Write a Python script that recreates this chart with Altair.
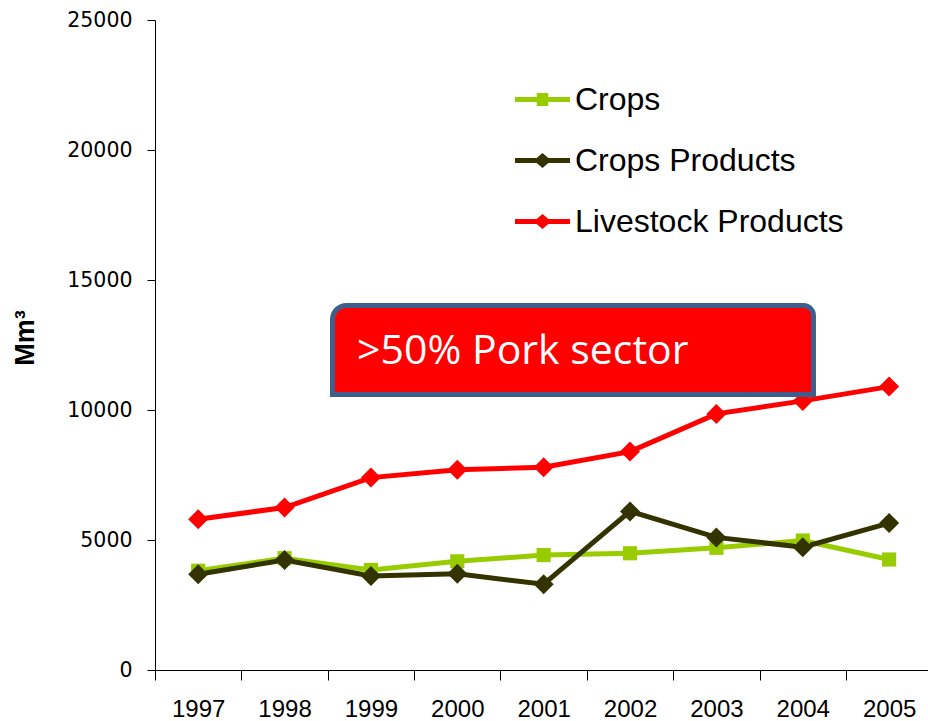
import altair as alt
import pandas as pd

# ---- data ----
years = [1997, 1998, 1999, 2000, 2001, 2002, 2003, 2004, 2005]
crops = [3820, 4300, 3850, 4180, 4420, 4490, 4700, 4980, 4250]
crops_products = [3680, 4230, 3620, 3700, 3300, 6100, 5100, 4720, 5650]
livestock = [5800, 6250, 7400, 7700, 7800, 8400, 9850, 10350, 10900]

series_names = ["Crops", "Crops Products", "Livestock Products"]
series_colors = ["#99CC00", "#333300", "#FF0000"]
series_markers = ["square", "diamond", "diamond"]
marker_sizes = [200, 400, 400]

y_ticks = [0, 5000, 10000, 15000, 20000, 25000]
y_title = "Mm³"

note_text = [">50% Pork sector"]
note_box_x = [1998.555, 2004.124]
note_box_y = [10596, 14019]
note_text_x = [1998.84]
note_text_y = [11769]

rows = []
for name, vals in zip(series_names, [crops, crops_products, livestock]):
    for yr, v in zip(years, vals):
        rows.append({"year": yr, "value": v, "series": name})
df = pd.DataFrame(rows)

# legend-only rows: no positions, so nothing is drawn; entries come from the scale domain
legend_df = pd.DataFrame({"series": series_names, "year": [None] * 3, "value": [None] * 3})

box_df = pd.DataFrame({"year": [note_box_x[0]], "year_end": [note_box_x[1]],
                       "value": [note_box_y[0]], "value_end": [note_box_y[1]]})
txt_df = pd.DataFrame({"year": note_text_x, "value": note_text_y, "label": note_text})

half_step = 773 / (2005.45 - 1996.5) / 2

x_enc = alt.X(
    "year:Q",
    scale=alt.Scale(domain=[1996.5, 2005.45], nice=False, zero=False),
    axis=alt.Axis(values=years, format="d", title=None, grid=False,
                  tickOffset=-half_step, labelOffset=half_step,
                  tickSize=10, labelPadding=17, labelFlush=False, labelOverlap=False,
                  labelFont="Liberation Sans", labelFontSize=24, labelColor="black",
                  domainColor="black", tickColor="black", domainWidth=1, tickWidth=1),
)
y_enc = alt.Y(
    "value:Q",
    scale=alt.Scale(domain=[0, 25000], nice=False),
    axis=alt.Axis(values=y_ticks, format="d", grid=False, tickSize=8, labelPadding=15,
                  labelFont="DejaVu Sans", labelFontSize=20.5, labelColor="black",
                  domainColor="black", tickColor="black",
                  title=y_title, titleFont="Liberation Sans", titleFontSize=27,
                  titleFontWeight="bold", titleColor="black", titleAngle=270,
                  titleX=-122, titleY=317.5, titleAlign="center",
                  titleBaseline="alphabetic"),
)

square_path = "M-1 -0.09H1V0.09H-1Z M-0.21 -0.24H0.21V0.24H-0.21Z"
diamond_path = "M-1 -0.09H1V0.09H-1Z M0 -0.27L0.32 0L0 0.27L-0.32 0Z"
legend_paths = [square_path, diamond_path, diamond_path]


def make_legend():
    return alt.Legend(title=None, orient="none", legendX=360, legendY=52, padding=0,
                      symbolSize=3025, symbolStrokeWidth=0, symbolOpacity=1,
                      labelFont="Liberation Sans", labelFontSize=32, labelColor="black",
                      labelOffset=5, rowPadding=17, labelLimit=500)


line_layers = []
point_layers = []
for name, col, mk, sz in zip(series_names, series_colors, series_markers, marker_sizes):
    sub = alt.Chart(df).transform_filter(alt.datum.series == name)
    line_layers.append(sub.mark_line(strokeWidth=5, color=col).encode(x=x_enc, y=y_enc))
    point_layers.append(
        sub.mark_point(filled=True, opacity=1, shape=mk, size=sz, color=col)
        .encode(x=x_enc, y=y_enc)
    )

legend_layer = alt.Chart(legend_df).mark_point(filled=True, opacity=1).encode(
    x=x_enc, y=y_enc,
    color=alt.Color("series:N", scale=alt.Scale(domain=series_names, range=series_colors),
                    legend=make_legend()),
    shape=alt.Shape("series:N", scale=alt.Scale(domain=series_names, range=legend_paths),
                    legend=make_legend()),
)
box = alt.Chart(box_df).mark_rect(
    fill="#FF0000", stroke="#3E5F8B", strokeWidth=5,
    cornerRadiusTopLeft=14, cornerRadiusTopRight=10,
).encode(x=x_enc, x2="year_end", y=y_enc, y2="value_end")
text = alt.Chart(txt_df).mark_text(
    align="left", baseline="alphabetic", font="Open Sans", fontSize=41, color="white",
).encode(x=x_enc, y=y_enc, text="label:N")

chart = alt.layer(*line_layers, *point_layers, legend_layer, box, text).properties(
    width=773, height=650,
    padding={"left": 155, "top": 20, "right": 0, "bottom": 51},
    autosize=alt.AutoSizeParams(type="none"),
    background="white",
).configure_view(stroke=None)

chart.save("out.html", embed_options={"renderer": "svg", "actions": False})
